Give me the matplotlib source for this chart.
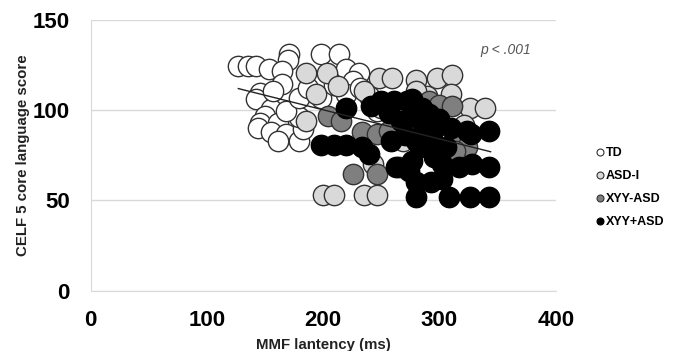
import matplotlib
matplotlib.use("Agg")
import matplotlib.pyplot as plt
from matplotlib.lines import Line2D

# ---- data ----
td_x = [126.5, 135.4, 142, 171, 170, 198, 214, 153, 164.5, 220, 231, 226,
        146, 142, 155, 150, 146, 161, 144, 155, 168, 161, 179, 183, 179,
        168, 179, 187, 164.5, 157, 198, 209, 220, 231.5, 239, 246]
td_y = [124.4, 124.4, 124.4, 131, 127.6, 131, 131, 122.6, 121.7, 122.6, 120.8, 116,
        109.7, 106, 100.5, 97, 93, 93, 90.4, 87.7, 86.8, 83, 83, 89.5, 96,
        99.6, 107, 112.5, 114.3, 110.7, 107, 114, 108.8, 112.5, 108, 99.6]

asd_x = [185, 203.5, 213, 194, 185, 248, 259, 280, 298, 311, 326, 339,
         200, 209, 235, 246, 243, 269, 295, 321, 321, 289, 280, 310, 235, 250]
asd_y = [120.8, 120.8, 113.4, 108.8, 94, 118, 118, 117, 118, 119.5, 101, 101,
         52.8, 52.8, 52.8, 52.8, 70, 83, 96, 92, 83, 108, 110.7, 108.8, 110.7, 101.5]

xyy_m_x = [204, 215, 226, 246, 233, 246, 265, 291, 300, 311, 317, 324, 257, 313]
xyy_m_y = [97, 94, 64.7, 64.7, 87.7, 86.8, 68.4, 105, 103, 102.4, 86.8, 79.4, 88.6, 77.6]

xyy_p_x = [220, 198, 209, 220, 233, 239, 241, 250, 261, 272, 276, 257, 267, 280,
           291, 263, 274, 280, 308, 326, 343, 280, 293, 302, 317, 328, 343, 324,
           343, 283.5, 295, 306, 280, 310, 276, 295, 327, 294, 287,
           285, 300, 270, 258, 302]
xyy_p_y = [101.5, 81, 81, 81, 79.4, 75.7, 102.4, 105, 105, 105, 106, 98.7, 94, 96,
           97.8, 68.4, 66.5, 51.8, 51.8, 51.8, 51.8, 60, 60, 70, 68.4, 70, 68.4, 88.6,
           88.6, 79.4, 79.4, 79.4, 83, 90.4, 72, 74, 86.8, 87, 90.4,
           101, 95, 86, 83, 62]

trend_x = [127, 344]
trend_y = [112, 77]

group_labels = ["TD", "ASD-I", "XYY-ASD", "XYY+ASD"]
x_ticks = [0, 100, 200, 300, 400]
y_ticks = [0, 50, 100, 150]

# ---- figure ----
fig = plt.figure(figsize=(6.79, 3.51), dpi=100)
ax = fig.add_axes([90.7 / 679, 1 - 290.7 / 351, (555.7 - 90.7) / 679, (290.7 - 20) / 351])

fills = ["white", "#d9d9d9", "#7f7f7f", "black"]
edge = "#333333"
groups = [(td_x, td_y), (asd_x, asd_y), (xyy_m_x, xyy_m_y), (xyy_p_x, xyy_p_y)]
for i, ((gx, gy), fc) in enumerate(zip(groups, fills)):
    ax.scatter(gx, gy, s=215, facecolor=fc, edgecolor=edge if fc != "black" else "black",
               linewidth=1.0, zorder=3 + i)

ax.plot(trend_x, trend_y, color="#222222", linewidth=1.0, zorder=8)

ax.set_xlim(0, 400)
ax.set_ylim(0, 150)
ax.set_xticks(x_ticks)
ax.set_yticks(y_ticks)
ax.tick_params(axis="x", length=0, pad=14)
ax.tick_params(axis="y", length=0, pad=15)
for lab in ax.get_xticklabels() + ax.get_yticklabels():
    lab.set_fontsize(16)
    lab.set_fontweight("bold")
    lab.set_fontfamily("Liberation Sans")
ax.yaxis.grid(True, color="#d9d9d9", linewidth=1.0)
ax.set_axisbelow(True)
for s in ["top", "right"]:
    ax.spines[s].set_visible(False)
ax.spines["left"].set_color("#d9d9d9")
ax.spines["bottom"].set_color("#d9d9d9")

ax.set_xlabel("MMF lantency (ms)", fontsize=10.8, fontweight="bold",
              family="Liberation Sans", color="#222222", labelpad=5)
ax.set_ylabel("CELF 5 core language score", fontsize=10.8, fontweight="bold",
              family="Liberation Sans", color="#222222", labelpad=2)

ax.text(357, 133.6, "p < .001", fontsize=10, style="italic", color="#555555",
        ha="center", va="center", family="Liberation Sans")

handles = [Line2D([], [], marker="o", linestyle="none", markersize=5,
                  markerfacecolor=fc, markeredgecolor=edge if fc != "black" else "black",
                  markeredgewidth=0.8) for fc in fills]
fig.legend(handles, group_labels, loc="upper left", bbox_to_anchor=(590 / 679, 1 - 141 / 351),
           frameon=False, handlelength=0.6, handletextpad=0.15, labelspacing=0.88,
           borderpad=0, prop={"family": "Liberation Sans", "weight": "bold", "size": 9})

fig.savefig("out.png", dpi=100)
